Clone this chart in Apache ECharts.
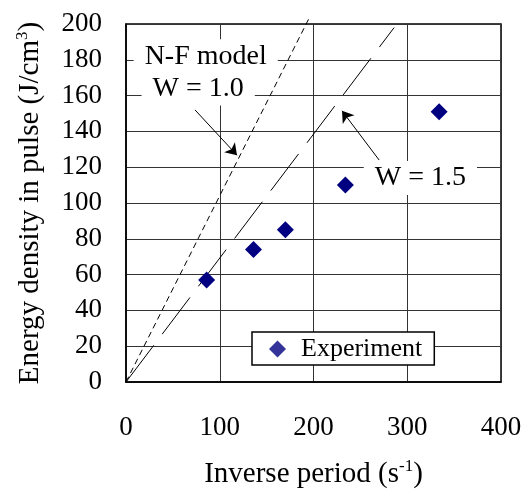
<!DOCTYPE html>
<html>
<head>
<meta charset="utf-8">
<script src="https://cdn.jsdelivr.net/npm/echarts@6/dist/echarts.min.js"></script>
<style>
    html,body{margin:0;padding:0;background:#fff;}
    #main{width:530px;height:495px;}
</style>
</head>
<body>
<div id="main"></div>
<script>
// 实验数据
var expX = [86, 136, 170, 234, 334];
var expY = [57, 74, 85, 110, 151];
// N-F model W = 1.0
var nfX = [0, 196];
var nfY = [0, 204];
// W = 1.5
var w15X = [0, 286];
var w15Y = [0, 198];
// 坐标轴刻度
var xTicks = [0, 100, 200, 300, 400];
var yTicks = [0, 20, 40, 60, 80, 100, 120, 140, 160, 180, 200];

var serif = 'Liberation Serif';

function toPairs(xs, ys){
    var arr = [];
    for(var i=0;i<xs.length;i++){
        arr.push([xs[i], ys[i]]);
    }
    return arr;
}

var _chart = document.getElementById('main');
var myChart = echarts.init(_chart, null, {renderer: 'canvas'});

//注释文字 白底
var labelBox = function(txt){
    return {
        show: true,
        position: 'inside',
        formatter: txt,
        color: '#000',
        fontFamily: serif,
        fontSize: 28,
        backgroundColor: '#fff',
        padding: [3, 11]
    };
};

var supStyle = {fontFamily: serif, fontSize: 17, verticalAlign: 'top', lineHeight: 18, color: '#000'};

var option = {
    animation: false,
    grid: {
        left: 126, right: 29, top: 24, bottom: 108,
        show: true,
        borderColor: '#000',
        borderWidth: 1.5
    },
    legend: {
        left: 252, top: 332,
        padding: [4, 12, 3, 17],
        itemWidth: 17, itemHeight: 17,
        itemGap: 10,
        backgroundColor: '#fff',
        borderColor: '#000',
        borderWidth: 1.5,
        textStyle: {fontFamily: serif, fontSize: 26, color: '#000', padding: [0, 0, 0, 10]},
        data: [{name: 'Experiment', icon: 'diamond', itemStyle: {color: '#333399'}}]
    },
    xAxis: {
        type: 'value',
        min: xTicks[0], max: xTicks[xTicks.length-1], interval: 100,
        name: 'Inverse period (s{sup|-1})',
        nameLocation: 'middle',
        nameGap: 76,
        nameTextStyle: {
            fontFamily: serif, fontSize: 29, color: '#000', lineHeight: 32,
            rich: {sup: supStyle}
        },
        axisLine: {lineStyle: {color: '#000', width: 1.5}},
        axisTick: {show: false},
        axisLabel: {fontFamily: serif, fontSize: 27, color: '#000', margin: 32},
        splitLine: {lineStyle: {color: '#333', width: 1}}
    },
    yAxis: {
        type: 'value',
        min: yTicks[0], max: yTicks[yTicks.length-1], interval: 20,
        name: 'Energy density in pulse (J/cm{sup|3})',
        nameLocation: 'middle',
        nameGap: 80,
        nameTextStyle: {
            fontFamily: serif, fontSize: 29, color: '#000', lineHeight: 32,
            rich: {sup: supStyle}
        },
        axisLine: {lineStyle: {color: '#000', width: 1.5}},
        axisTick: {show: false},
        axisLabel: {fontFamily: serif, fontSize: 27, color: '#000', margin: 24},
        splitLine: {lineStyle: {color: '#333', width: 1}}
    },
    series: [
        {
            name: 'N-F W = 1.0',
            type: 'line',
            clip: false,
            symbol: 'none',
            silent: true,
            z: 3,
            lineStyle: {color: '#000', width: 1, type: [6, 4]},
            data: toPairs(nfX, nfY)
        },
        {
            name: 'W = 1.5',
            type: 'line',
            symbol: 'none',
            silent: true,
            z: 3,
            lineStyle: {color: '#000', width: 1, type: [46, 14]},
            data: toPairs(w15X, w15Y)
        },
        {
            // 注释 文字与箭头
            name: 'annot',
            type: 'scatter',
            data: [],
            silent: true,
            z: 2,
            markPoint: {
                symbol: 'rect',
                symbolSize: 0,
                silent: true,
                data: [
                    {coord: [85, 182], label: labelBox('N-F model')},
                    {coord: [77, 164], label: labelBox('W = 1.0')},
                    {coord: [314, 114], label: labelBox('W = 1.5')}
                ]
            },
            markLine: {
                silent: true,
                symbol: ['none', 'arrow'],
                symbolSize: 11,
                label: {show: false},
                lineStyle: {color: '#000', width: 1, type: 'solid'},
                data: [
                    [{coord: [73.6, 152]}, {coord: [118.4, 126.7]}],
                    [{coord: [270, 124]}, {coord: [230.4, 151.5]}]
                ]
            }
        },
        {
            name: 'Experiment',
            type: 'scatter',
            symbol: 'diamond',
            symbolSize: 17,
            z: 4,
            itemStyle: {color: '#000080', opacity: 1},
            data: toPairs(expX, expY)
        }
    ]
};

myChart.setOption(option);
</script>
</body>
</html>
